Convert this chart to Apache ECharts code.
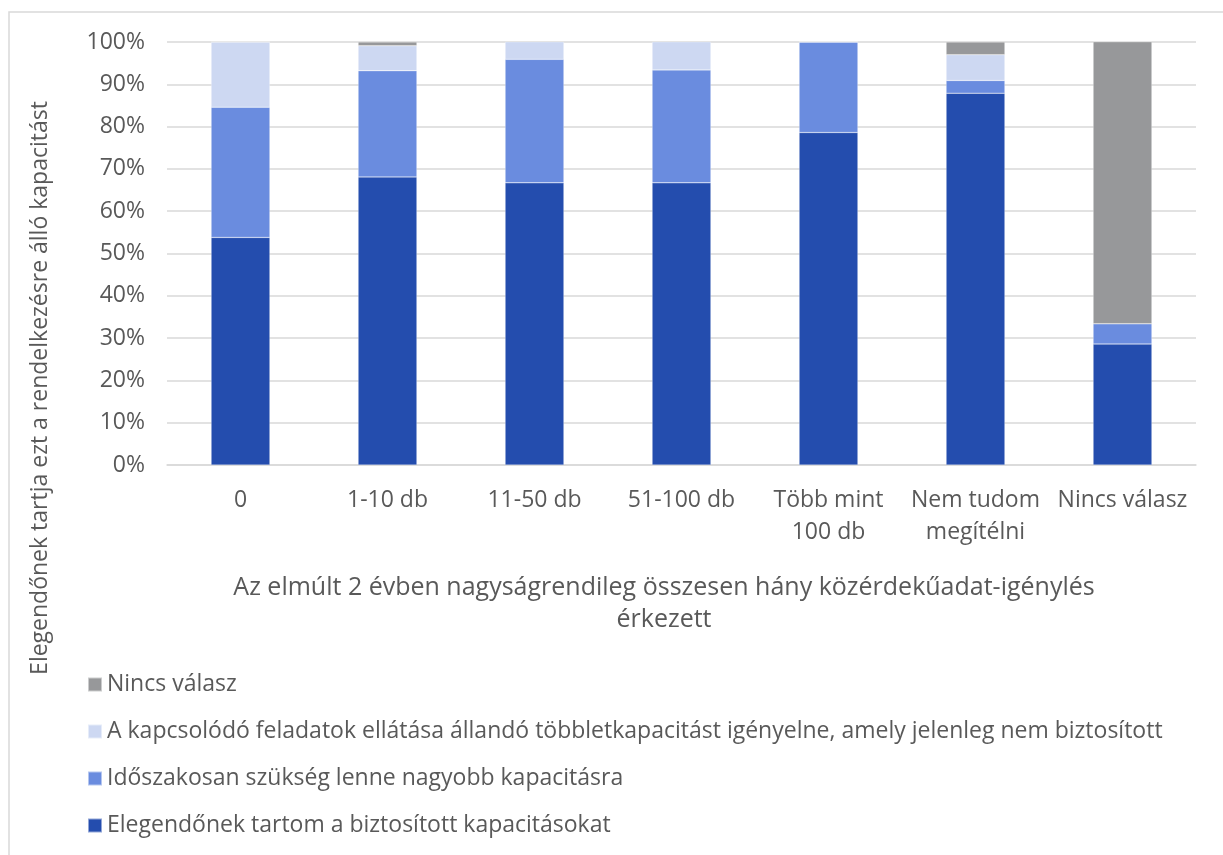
<!DOCTYPE html>
<html>
<head>
<meta charset="utf-8">
<script src="https://cdn.jsdelivr.net/npm/echarts@6/dist/echarts.min.js"></script>
<style>
  html, body { margin: 0; padding: 0; background: #fff; }
  #main { width: 1223px; height: 855px; }
</style>
</head>
<body>
<div id="main"></div>
<script>
// kategóriák (x tengely)
var categories = ['0', '1-10 db', '11-50 db', '51-100 db', 'Több mint\n100 db', 'Nem tudom\nmegítélni', 'Nincs válasz'];

// sorozatok neve
var seriesNames = [
    'Elegendőnek tartom a biztosított kapacitásokat',
    'Időszakosan szükség lenne nagyobb kapacitásra',
    'A kapcsolódó feladatok ellátása állandó többletkapacitást igényelne, amely jelenleg nem biztosított',
    'Nincs válasz'
];

// értékek %-ban
var elegendo     = [53.8, 68.1, 66.7, 66.7, 78.6, 87.9, 28.6];
var idoszakosan  = [30.8, 25.1, 29.2, 26.7, 21.4, 3.0, 4.8];
var allando      = [15.4, 5.9, 4.2, 6.7, 0, 6.1, 0];
var nincsValasz  = [0, 0.9, 0, 0, 0, 3.0, 66.7];

var yTicks = [0, 10, 20, 30, 40, 50, 60, 70, 80, 90, 100];

var colors = ['#244DAE', '#6A8CDF', '#CDD8F2', '#97989A'];
var textColor = '#595959';
var fontFam = '"Open Sans", "Noto Sans", sans-serif';

var chart = echarts.init(document.getElementById('main'));

function bar(name, data, color) {
    return {
        name: name,
        type: 'bar',
        stack: 'total',
        barWidth: '40%',
        data: data,
        itemStyle: {
            color: color,
            borderColor: 'rgba(255,255,255,0.5)',
            borderWidth: 0.5
        },
        emphasis: { disabled: true }
    };
}

var option = {
    backgroundColor: '#fff',
    animation: false,
    textStyle: { fontFamily: fontFam },
    grid: {
        left: 167,
        right: 27,
        top: 42,
        bottom: 390,
        containLabel: false
    },
    legend: {
        orient: 'vertical',
        left: 87,
        top: 673,
        padding: 0,
        itemWidth: 14,
        itemHeight: 14,
        itemGap: 24,
        icon: 'rect',
        data: [seriesNames[3], seriesNames[2], seriesNames[1], seriesNames[0]],
        textStyle: { color: textColor, fontSize: 23, fontFamily: fontFam }
    },
    xAxis: {
        type: 'category',
        data: categories,
        axisTick: { show: false },
        axisLine: { lineStyle: { color: '#d9d9d9', width: 1.5 } },
        axisLabel: {
            color: textColor,
            fontSize: 23,
            lineHeight: 32,
            margin: 19,
            interval: 0,
            fontFamily: fontFam
        }
    },
    yAxis: {
        type: 'value',
        min: yTicks[0],
        max: yTicks[yTicks.length - 1],
        interval: 10,
        axisLine: { show: false },
        axisTick: { show: false },
        axisLabel: {
            color: textColor,
            fontSize: 23,
            margin: 22,
            formatter: '{value}%',
            fontFamily: fontFam
        },
        splitLine: { lineStyle: { color: '#d9d9d9', width: 1.5 } }
    },
    graphic: [
        {
            type: 'rect',
            silent: true,
            shape: { x: 9, y: 12, width: 1400, height: 1000 },
            style: { fill: 'none', stroke: '#d9d9d9', lineWidth: 1.5 }
        },
        {
            type: 'text',
            silent: true,
            x: 40,
            y: 388,
            rotation: Math.PI / 2,
            style: {
                text: 'Elegendőnek tartja ezt a rendelkezésre álló kapacitást',
                fill: textColor,
                font: '23px ' + fontFam,
                align: 'center',
                verticalAlign: 'middle'
            }
        },
        {
            type: 'text',
            silent: true,
            x: 664,
            y: 572,
            style: {
                text: 'Az elmúlt 2 évben nagyságrendileg összesen hány közérdekűadat-igénylés\nérkezett',
                fill: textColor,
                font: '25px ' + fontFam,
                lineHeight: 32,
                align: 'center',
                verticalAlign: 'top'
            }
        }
    ],
    series: [
        bar(seriesNames[0], elegendo, colors[0]),
        bar(seriesNames[1], idoszakosan, colors[1]),
        bar(seriesNames[2], allando, colors[2]),
        bar(seriesNames[3], nincsValasz, colors[3])
    ]
};

chart.setOption(option);
</script>
</body>
</html>
